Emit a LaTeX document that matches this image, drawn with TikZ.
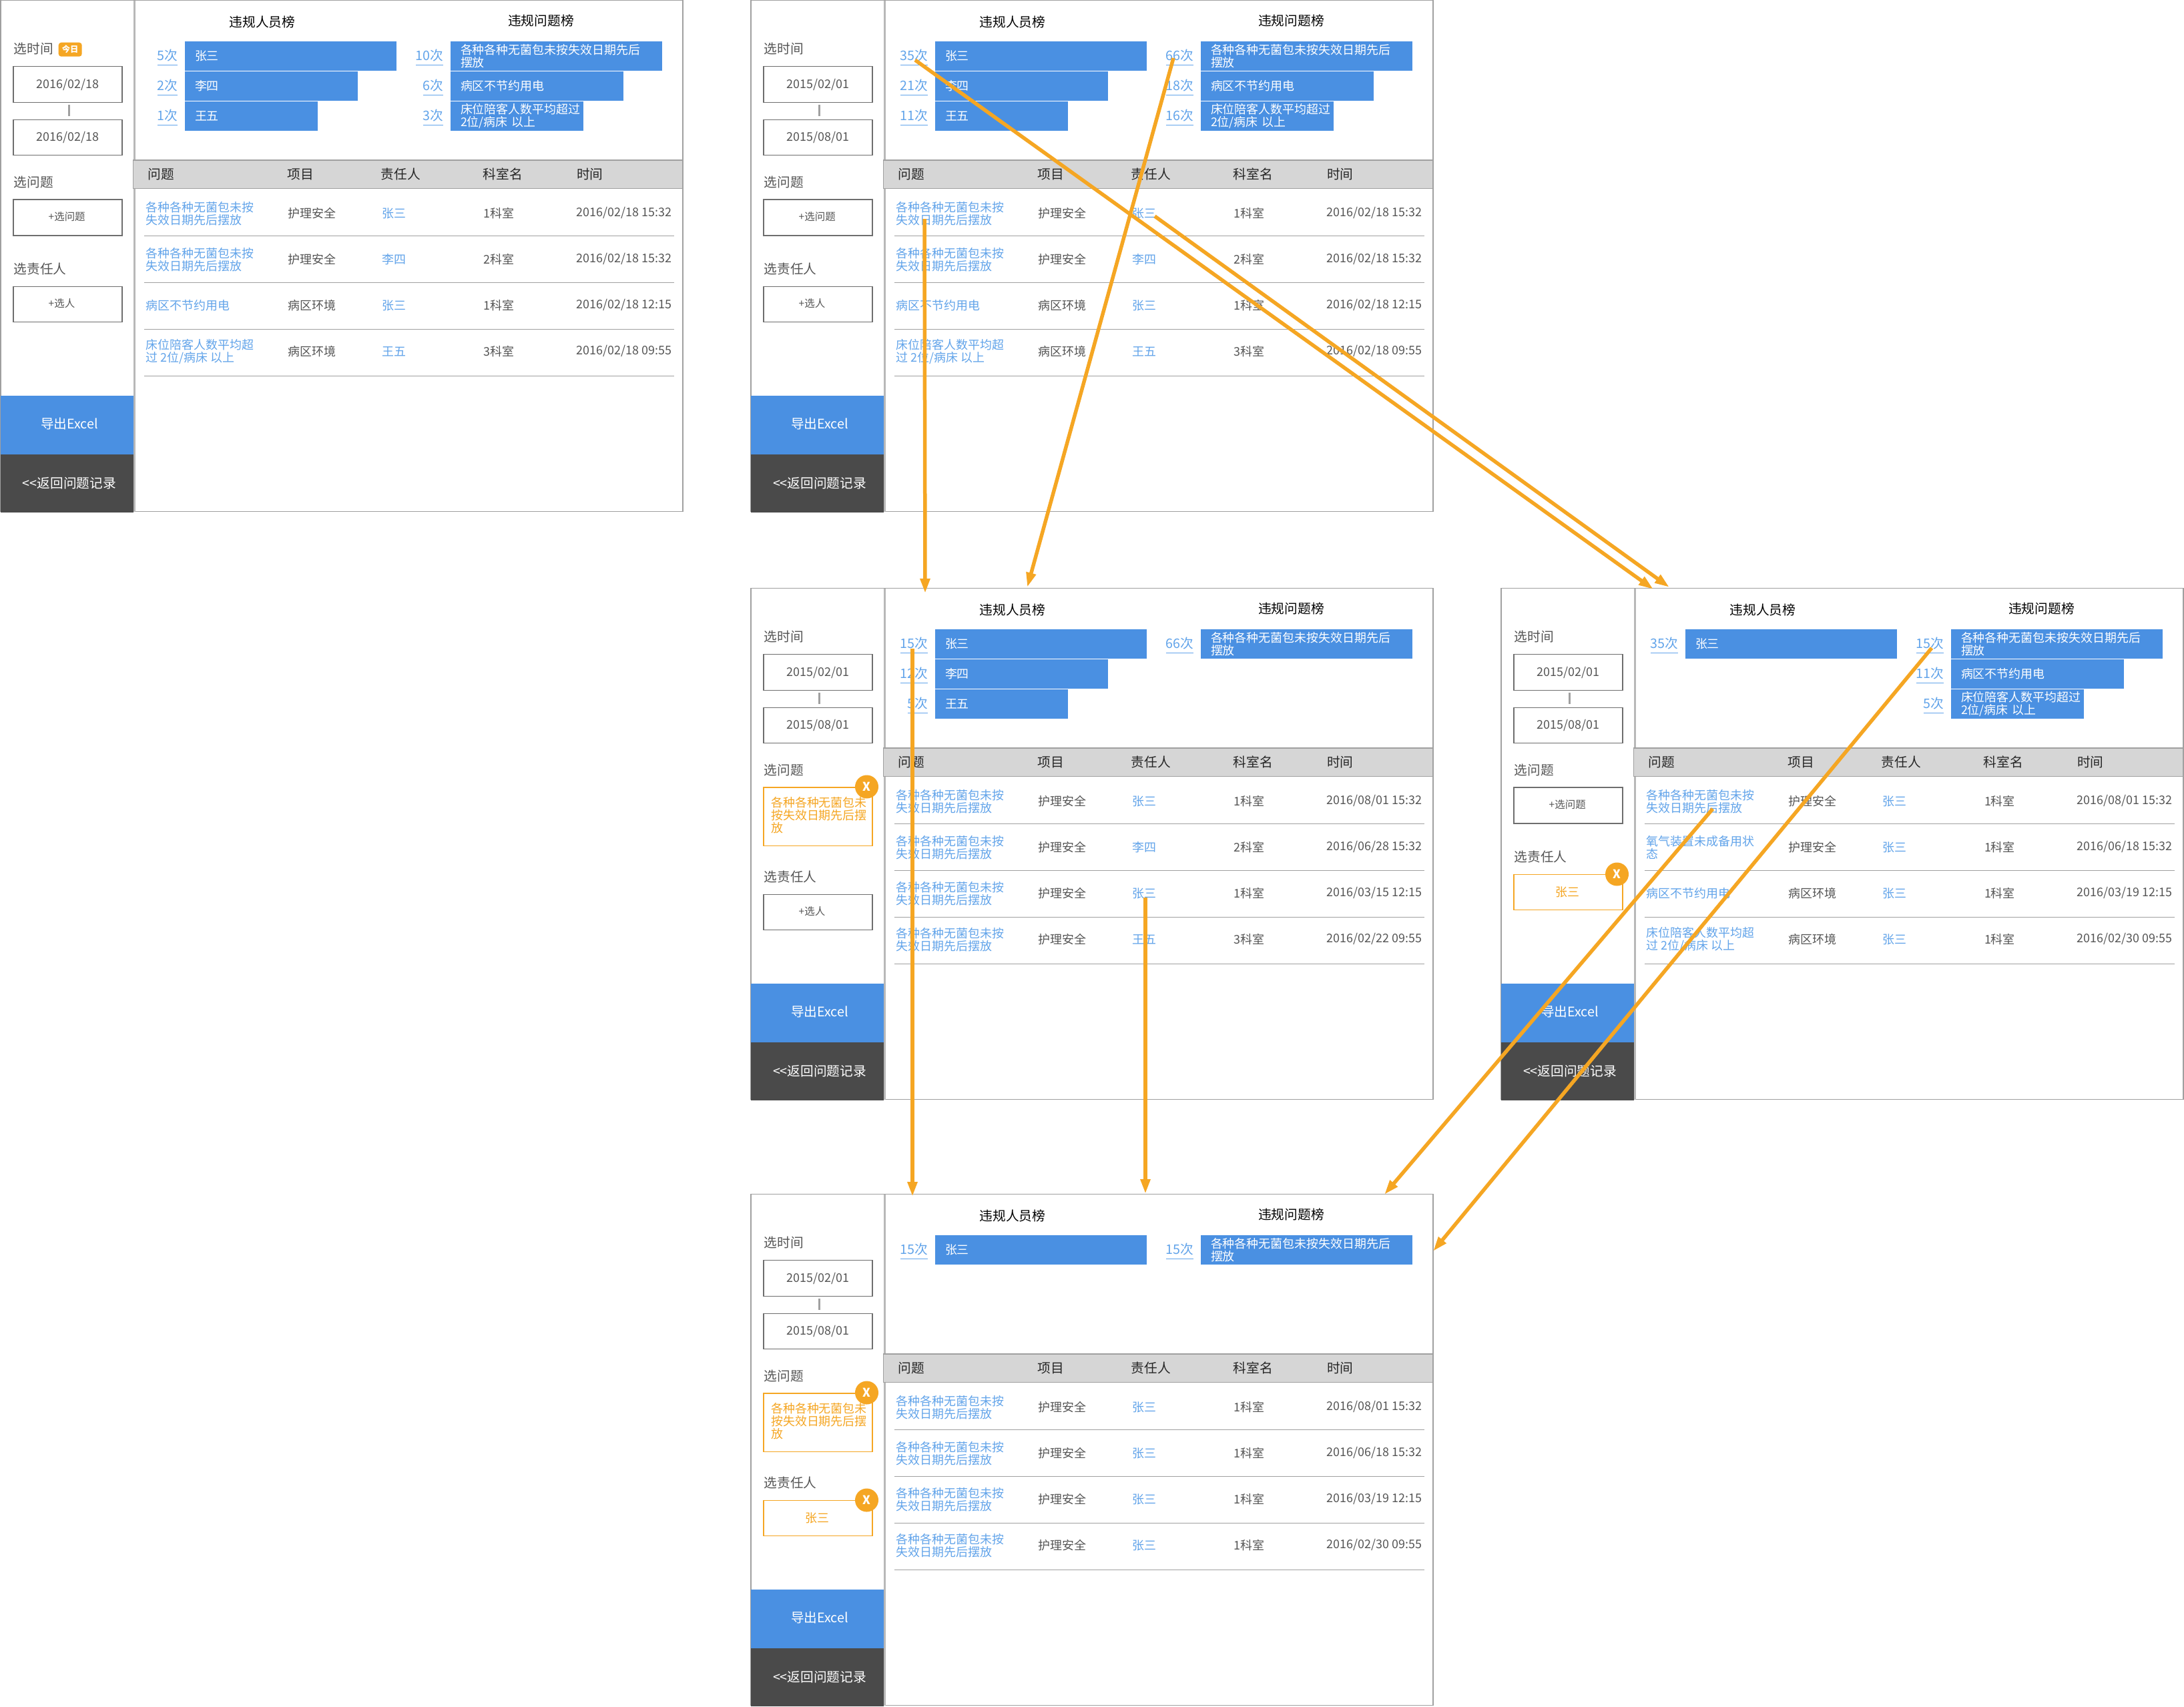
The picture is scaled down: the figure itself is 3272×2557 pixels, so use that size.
\documentclass[tikz,border=0pt]{standalone}
\usepackage{fontspec}
\setmainfont{Noto Sans CJK SC}
\usetikzlibrary{arrows.meta}

\definecolor{barblue}{HTML}{4A90E2}
\definecolor{linkblue}{HTML}{62A4EA}
\definecolor{pickorange}{HTML}{F5A623}
\definecolor{darkbtn}{HTML}{4A4A4A}
\definecolor{greytext}{HTML}{555555}
\definecolor{headgrey}{HTML}{D6D6D6}
\definecolor{framegrey}{HTML}{A0A0A0}
\definecolor{splitgrey}{HTML}{B8B8B8}

\newcommand*\pix{0.01cm}
\newcommand*\fsbadge{\fontsize{3.5pt}{4pt}\selectfont}
\newcommand*\fssmall{\fontsize{4.4pt}{5pt}\selectfont}
\newcommand*\fstext{\fontsize{5.1pt}{5.41pt}\selectfont}
\newcommand*\fslarge{\fontsize{5.6pt}{6.4pt}\selectfont}

\tikzset{
    lbl/.style={anchor=west, inner sep=0, align=left},
    caption/.style={lbl, font=\fslarge, text=greytext},
    heading/.style={inner sep=0, font=\fslarge, text=black},
    colhead/.style={lbl, font=\fslarge, text=black!85},
    datebox/.style={draw=greytext!85, line width=1.3*\pix, anchor=north west, inner sep=0, outer sep=0,
        minimum width=163*\pix, minimum height=#1*\pix, font=\fstext, text=greytext},
    pickedbox/.style={datebox=#1, draw=pickorange},
    button/.style={anchor=north west, inner sep=0, outer sep=0, minimum width=199*\pix, minimum height=87.5*\pix},
    btntext/.style={inner sep=0, font=\fslarge, text=white},
    bar/.style={fill=barblue, anchor=north west, inner ysep=0, inner xsep=15*\pix, outer sep=0,
        minimum height=44*\pix, minimum width=#1*\pix, text width={(#1-30)*\pix},
        align=left, font=\fstext, text=white},
    hits/.style={anchor=east, inner sep=0, font=\fslarge, text=linkblue},
    cell/.style={lbl, font=\fstext, text=greytext},
    link/.style={lbl, font=\fstext, text=linkblue},
    closer/.style={circle, fill=pickorange, inner sep=0, minimum size=35*\pix, font=\fstext\bfseries, text=white},
    flow/.style={draw=pickorange, line width=5.5*\pix, -{Triangle[length=22*\pix, width=14*\pix]}}
}

% the parts every screen has
\newcommand*\screen[2]{
    \node[draw=framegrey, line width=1.5*\pix, fill=white, anchor=north west, inner sep=0, outer sep=0,
        minimum width=1022*\pix, minimum height=766*\pix] (frame) at (1,0.5) {};
    \node[button, fill=barblue] (export) at (1,593) {};
    \node[button, fill=darkbtn] (back) at (1,680.5) {};
    \node[btntext] (exporttext) at (104,635) {导出Excel};
    \node[btntext] (backtext) at (104,724) {{<}{<}返回问题记录};
    \draw[splitgrey, line width=3*\pix] (201,1) -- (201,767);
    \node[caption] (timelbl) at (20,73.5) {选时间};
    \node[datebox=54] (from) at (20,99.5) {#1};
    \node[datebox=53] (to) at (20,179.5) {#2};
    \draw[framegrey, line width=3*\pix] (103,157) -- (103,174);
    \node[caption] (issuelbl) at (20,273) {选问题};
    \node[heading] (peopletitle) at (393,33) {违规人员榜};
    \node[heading] (issuetitle) at (810.5,31) {违规问题榜};
    \node[fill=headgrey, draw=framegrey, line width=1.5*\pix, anchor=north west, inner sep=0, outer sep=0,
        minimum width=823.5*\pix, minimum height=42.5*\pix] (head) at (199.5,240) {};
    \node[colhead] (headA) at (221,261) {问题};
    \node[colhead] (headB) at (430,261) {项目};
    \node[colhead] (headC) at (570,261) {责任人};
    \node[colhead] (headD) at (723,261) {科室名};
    \node[colhead] (headE) at (863.5,261) {时间};
}
% the two pickers, empty or filled
\newcommand*\emptyissue{
    \node[datebox=54] (issuebox) at (20,299) {};
    \node[lbl, font=\fssmall, text=greytext] (issuetext) at (72,325) {+选问题};
}
\newcommand*\filledissue{
    \node[pickedbox=87.5] (issuebox) at (20,299) {};
    \node[lbl, anchor=north west, font=\fstext, text=pickorange] (issuetext) at (30.5,312.5)
        {各种各种无菌包未\\按失效日期先后摆\\放};
    \node[closer] (issuex) at (174.5,298) {X};
}
\newcommand*\emptyperson[1]{
    \node[caption] (personlbl) at (20,#1) {选责任人};
    \node[datebox=53] (personbox) at (20,#1+26.5) {};
    \node[lbl, font=\fssmall, text=greytext] (persontext) at (72,#1+52) {+选人};
}
\newcommand*\filledperson[1]{
    \node[caption] (personlbl) at (20,#1) {选责任人};
    \node[pickedbox=53] (personbox) at (20,#1+26.5) {};
    \node[font=\fstext, inner sep=0, text=pickorange] (persontext) at (100,#1+53) {张三};
    \node[closer] (personx) at (174.5,#1+26) {X};
}
% one row of each ranking
\newcommand*\peoplebar[4]{
    \node[bar=#2] (pbar#1) at (277,{17+45*#1}) {#4};
    \node[hits] (phits#1) at (267,{42+45*#1}) {\underline{#3}};
}
\newcommand*\issuebar[4]{
    \node[bar=#2] (ibar#1) at (675,{17+45*#1}) {#4};
    \node[hits] (ihits#1) at (665,{42+45*#1}) {\underline{#3}};
}
% one row of the table
\newcommand*\tablerow[6]{
    \node[link] (rowA#1) at (218,{251+69*#1}) {#2};
    \node[cell] (rowB#1) at (431,{251+69*#1}) {#3};
    \node[link] (rowC#1) at (572,{251+69*#1}) {#4};
    \node[cell, anchor=east] (rowD#1) at (771.5,{251+69*#1}) {#5};
    \node[cell, anchor=east] (rowE#1) at (1007,{250+69*#1}) {#6};
    \draw[framegrey, line width=1*\pix] (215.5,{283+70*#1}) -- (1010,{283+70*#1});
}

\begin{document}
\begin{tikzpicture}[x=\pix, y=-\pix]
    \useasboundingbox (0,0) rectangle (3272,2557);

    % Today, nothing picked.
    \begin{scope}[name prefix=a-]
        \screen{2016/02/18}{2016/02/18}
        \node[fill=pickorange, rounded corners=4*\pix, anchor=north west, inner sep=0,
            minimum width=35*\pix, minimum height=21*\pix, font=\fsbadge\bfseries, text=white]
            (today) at (87,63) {今日};
        \emptyissue
        \emptyperson{403}
        \peoplebar{1}{317}{5次}{张三}
        \peoplebar{2}{259}{2次}{李四}
        \peoplebar{3}{199}{1次}{王五}
        \issuebar{1}{317}{10次}{各种各种无菌包未按失效日期先后\\摆放}
        \issuebar{2}{259}{6次}{病区不节约用电}
        \issuebar{3}{199}{3次}{床位陪客人数平均超过\\2位/病床 以上}
        \tablerow{1}{各种各种无菌包未按\\失效日期先后摆放}{护理安全}{张三}{1科室}{2016/02/18 15:32}
        \tablerow{2}{各种各种无菌包未按\\失效日期先后摆放}{护理安全}{李四}{2科室}{2016/02/18 15:32}
        \tablerow{3}{病区不节约用电}{病区环境}{张三}{1科室}{2016/02/18 12:15}
        \tablerow{4}{床位陪客人数平均超\\过 2位/病床 以上}{病区环境}{王五}{3科室}{2016/02/18 09:55}
    \end{scope}

    % Longer period.
    \begin{scope}[shift={(1124,0)}, name prefix=b-]
        \screen{2015/02/01}{2015/08/01}
        \emptyissue
        \emptyperson{403}
        \peoplebar{1}{317}{35次}{张三}
        \peoplebar{2}{259}{21次}{李四}
        \peoplebar{3}{199}{11次}{王五}
        \issuebar{1}{317}{66次}{各种各种无菌包未按失效日期先后\\摆放}
        \issuebar{2}{259}{18次}{病区不节约用电}
        \issuebar{3}{199}{16次}{床位陪客人数平均超过\\2位/病床 以上}
        \tablerow{1}{各种各种无菌包未按\\失效日期先后摆放}{护理安全}{张三}{1科室}{2016/02/18 15:32}
        \tablerow{2}{各种各种无菌包未按\\失效日期先后摆放}{护理安全}{李四}{2科室}{2016/02/18 15:32}
        \tablerow{3}{病区不节约用电}{病区环境}{张三}{1科室}{2016/02/18 12:15}
        \tablerow{4}{床位陪客人数平均超\\过 2位/病床 以上}{病区环境}{王五}{3科室}{2016/02/18 09:55}
    \end{scope}

    % One issue picked.
    \begin{scope}[shift={(1124,881)}, name prefix=c-]
        \screen{2015/02/01}{2015/08/01}
        \filledissue
        \emptyperson{433}
        \peoplebar{1}{317}{15次}{张三}
        \peoplebar{2}{259}{12次}{李四}
        \peoplebar{3}{199}{5次}{王五}
        \issuebar{1}{317}{66次}{各种各种无菌包未按失效日期先后\\摆放}
        \tablerow{1}{各种各种无菌包未按\\失效日期先后摆放}{护理安全}{张三}{1科室}{2016/08/01 15:32}
        \tablerow{2}{各种各种无菌包未按\\失效日期先后摆放}{护理安全}{李四}{2科室}{2016/06/28 15:32}
        \tablerow{3}{各种各种无菌包未按\\失效日期先后摆放}{护理安全}{张三}{1科室}{2016/03/15 12:15}
        \tablerow{4}{各种各种无菌包未按\\失效日期先后摆放}{护理安全}{王五}{3科室}{2016/02/22 09:55}
    \end{scope}

    % One person picked.
    \begin{scope}[shift={(2248,881)}, name prefix=d-]
        \screen{2015/02/01}{2015/08/01}
        \emptyissue
        \filledperson{403}
        \peoplebar{1}{317}{35次}{张三}
        \issuebar{1}{317}{15次}{各种各种无菌包未按失效日期先后\\摆放}
        \issuebar{2}{259}{11次}{病区不节约用电}
        \issuebar{3}{199}{5次}{床位陪客人数平均超过\\2位/病床 以上}
        \tablerow{1}{各种各种无菌包未按\\失效日期先后摆放}{护理安全}{张三}{1科室}{2016/08/01 15:32}
        \tablerow{2}{氧气装置未成备用状\\态}{护理安全}{张三}{1科室}{2016/06/18 15:32}
        \tablerow{3}{病区不节约用电}{病区环境}{张三}{1科室}{2016/03/19 12:15}
        \tablerow{4}{床位陪客人数平均超\\过 2位/病床 以上}{病区环境}{张三}{1科室}{2016/02/30 09:55}
    \end{scope}

    % Both picked.
    \begin{scope}[shift={(1124,1789)}, name prefix=e-]
        \screen{2015/02/01}{2015/08/01}
        \filledissue
        \filledperson{433}
        \peoplebar{1}{317}{15次}{张三}
        \issuebar{1}{317}{15次}{各种各种无菌包未按失效日期先后\\摆放}
        \tablerow{1}{各种各种无菌包未按\\失效日期先后摆放}{护理安全}{张三}{1科室}{2016/08/01 15:32}
        \tablerow{2}{各种各种无菌包未按\\失效日期先后摆放}{护理安全}{张三}{1科室}{2016/06/18 15:32}
        \tablerow{3}{各种各种无菌包未按\\失效日期先后摆放}{护理安全}{张三}{1科室}{2016/03/19 12:15}
        \tablerow{4}{各种各种无菌包未按\\失效日期先后摆放}{护理安全}{张三}{1科室}{2016/02/30 09:55}
    \end{scope}

    % Free ends of the flows.
    \coordinate (peopleout) at (1371,90);
    \coordinate (personout) at (1730,324);
    \coordinate (issueout) at (1758,87);
    \coordinate (rowout) at (1385,328);
    \coordinate (personin) at (2477,883);
    \coordinate (peoplein) at (2501,880);
    \coordinate (issuein) at (1539,880);
    \coordinate (rowin) at (1386,889);
    \coordinate (midissueout) at (1367,972);
    \coordinate (midpersonout) at (1716,1345);
    \coordinate (midissuein) at (1367,1793);
    \coordinate (midpersonin) at (1716,1789);
    \coordinate (rightissueout) at (2894,971);
    \coordinate (rightrowout) at (2566,1212);
    \coordinate (rightissuein) at (2147,1875);
    \coordinate (rightrowin) at (2074,1790);

    \draw[flow] (peopleout) -- (personin);
    \draw[flow] (personout) -- (peoplein);
    \draw[flow] (issueout) -- (issuein);
    \draw[flow] (rowout) -- (rowin);
    \draw[flow] (midissueout) -- (midissuein);
    \draw[flow] (midpersonout) -- (midpersonin);
    \draw[flow] (rightissueout) -- (rightissuein);
    \draw[flow] (rightrowout) -- (rightrowin);
\end{tikzpicture}
\end{document}
